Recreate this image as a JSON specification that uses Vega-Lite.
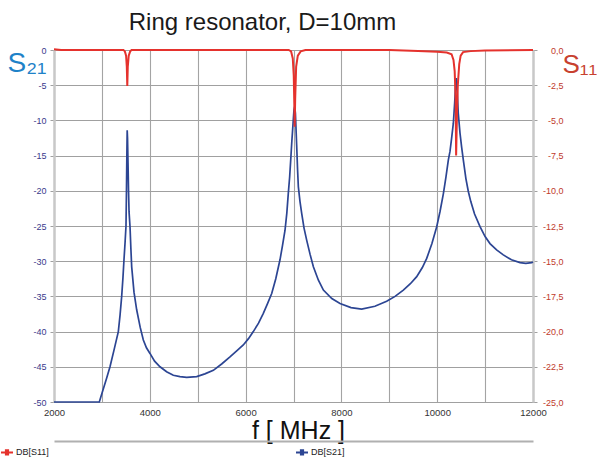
{
  "$schema": "https://vega.github.io/schema/vega-lite/v6.json",
  "width": 479,
  "height": 352,
  "autosize": {"type": "none"},
  "padding": {"left": 54, "top": 50, "right": 64, "bottom": 57},
  "background": "white",
  "title": {"text": "Ring resonator, D=10mm", "font": "Liberation Sans", "fontSize": 24, "fontWeight": "normal", "color": "#1a1a1a", "anchor": "middle", "dx": -31, "offset": 10},
  "config": {"view": {"stroke": null}, "font": "Liberation Sans"},
  "datasets": {
    "s21": [
      {"f": 2000, "db": -50, "series": "DB[S21]"},
      {"f": 2500, "db": -50, "series": "DB[S21]"},
      {"f": 2946, "db": -50, "series": "DB[S21]"},
      {"f": 3000, "db": -48.8, "series": "DB[S21]"},
      {"f": 3100, "db": -46.6, "series": "DB[S21]"},
      {"f": 3169, "db": -45.0, "series": "DB[S21]"},
      {"f": 3250, "db": -42.7, "series": "DB[S21]"},
      {"f": 3343, "db": -40.0, "series": "DB[S21]"},
      {"f": 3380, "db": -37.6, "series": "DB[S21]"},
      {"f": 3413, "db": -35.0, "series": "DB[S21]"},
      {"f": 3440, "db": -32.3, "series": "DB[S21]"},
      {"f": 3461, "db": -29.8, "series": "DB[S21]"},
      {"f": 3485, "db": -27.2, "series": "DB[S21]"},
      {"f": 3503, "db": -25.0, "series": "DB[S21]"},
      {"f": 3513, "db": -20.0, "series": "DB[S21]"},
      {"f": 3521, "db": -15.0, "series": "DB[S21]"},
      {"f": 3528, "db": -11.4, "series": "DB[S21]"},
      {"f": 3535, "db": -12.5, "series": "DB[S21]"},
      {"f": 3545, "db": -16.0, "series": "DB[S21]"},
      {"f": 3556, "db": -20.0, "series": "DB[S21]"},
      {"f": 3567, "db": -23.0, "series": "DB[S21]"},
      {"f": 3587, "db": -25.1, "series": "DB[S21]"},
      {"f": 3605, "db": -28.2, "series": "DB[S21]"},
      {"f": 3622, "db": -30.8, "series": "DB[S21]"},
      {"f": 3670, "db": -34.4, "series": "DB[S21]"},
      {"f": 3726, "db": -36.9, "series": "DB[S21]"},
      {"f": 3800, "db": -39.4, "series": "DB[S21]"},
      {"f": 3865, "db": -41.2, "series": "DB[S21]"},
      {"f": 3930, "db": -42.3, "series": "DB[S21]"},
      {"f": 4004, "db": -43.1, "series": "DB[S21]"},
      {"f": 4100, "db": -44.2, "series": "DB[S21]"},
      {"f": 4213, "db": -45.0, "series": "DB[S21]"},
      {"f": 4350, "db": -45.7, "series": "DB[S21]"},
      {"f": 4491, "db": -46.2, "series": "DB[S21]"},
      {"f": 4630, "db": -46.4, "series": "DB[S21]"},
      {"f": 4770, "db": -46.5, "series": "DB[S21]"},
      {"f": 4979, "db": -46.4, "series": "DB[S21]"},
      {"f": 5150, "db": -46.0, "series": "DB[S21]"},
      {"f": 5326, "db": -45.5, "series": "DB[S21]"},
      {"f": 5500, "db": -44.6, "series": "DB[S21]"},
      {"f": 5674, "db": -43.6, "series": "DB[S21]"},
      {"f": 5820, "db": -42.7, "series": "DB[S21]"},
      {"f": 5952, "db": -41.9, "series": "DB[S21]"},
      {"f": 6060, "db": -41.0, "series": "DB[S21]"},
      {"f": 6161, "db": -40.0, "series": "DB[S21]"},
      {"f": 6270, "db": -38.8, "series": "DB[S21]"},
      {"f": 6370, "db": -37.4, "series": "DB[S21]"},
      {"f": 6460, "db": -36.0, "series": "DB[S21]"},
      {"f": 6545, "db": -34.6, "series": "DB[S21]"},
      {"f": 6630, "db": -32.5, "series": "DB[S21]"},
      {"f": 6718, "db": -29.8, "series": "DB[S21]"},
      {"f": 6770, "db": -27.8, "series": "DB[S21]"},
      {"f": 6823, "db": -25.6, "series": "DB[S21]"},
      {"f": 6860, "db": -23.2, "series": "DB[S21]"},
      {"f": 6891, "db": -20.4, "series": "DB[S21]"},
      {"f": 6920, "db": -18.0, "series": "DB[S21]"},
      {"f": 6942, "db": -15.6, "series": "DB[S21]"},
      {"f": 6965, "db": -13.0, "series": "DB[S21]"},
      {"f": 6990, "db": -10.5, "series": "DB[S21]"},
      {"f": 7010, "db": -8.5, "series": "DB[S21]"},
      {"f": 7025, "db": -8.0, "series": "DB[S21]"},
      {"f": 7040, "db": -9.0, "series": "DB[S21]"},
      {"f": 7066, "db": -13.5, "series": "DB[S21]"},
      {"f": 7085, "db": -17.0, "series": "DB[S21]"},
      {"f": 7101, "db": -19.4, "series": "DB[S21]"},
      {"f": 7135, "db": -21.5, "series": "DB[S21]"},
      {"f": 7171, "db": -23.2, "series": "DB[S21]"},
      {"f": 7220, "db": -25.3, "series": "DB[S21]"},
      {"f": 7275, "db": -27.0, "series": "DB[S21]"},
      {"f": 7345, "db": -29.0, "series": "DB[S21]"},
      {"f": 7415, "db": -30.8, "series": "DB[S21]"},
      {"f": 7520, "db": -32.7, "series": "DB[S21]"},
      {"f": 7624, "db": -34.1, "series": "DB[S21]"},
      {"f": 7800, "db": -35.3, "series": "DB[S21]"},
      {"f": 7971, "db": -36.0, "series": "DB[S21]"},
      {"f": 8200, "db": -36.6, "series": "DB[S21]"},
      {"f": 8423, "db": -36.8, "series": "DB[S21]"},
      {"f": 8700, "db": -36.4, "series": "DB[S21]"},
      {"f": 8945, "db": -35.7, "series": "DB[S21]"},
      {"f": 9120, "db": -35.0, "series": "DB[S21]"},
      {"f": 9293, "db": -34.1, "series": "DB[S21]"},
      {"f": 9440, "db": -33.2, "series": "DB[S21]"},
      {"f": 9572, "db": -32.2, "series": "DB[S21]"},
      {"f": 9690, "db": -30.9, "series": "DB[S21]"},
      {"f": 9781, "db": -29.6, "series": "DB[S21]"},
      {"f": 9890, "db": -27.5, "series": "DB[S21]"},
      {"f": 9990, "db": -25.1, "series": "DB[S21]"},
      {"f": 10060, "db": -22.9, "series": "DB[S21]"},
      {"f": 10129, "db": -20.4, "series": "DB[S21]"},
      {"f": 10184, "db": -18.0, "series": "DB[S21]"},
      {"f": 10233, "db": -15.6, "series": "DB[S21]"},
      {"f": 10267, "db": -14.4, "series": "DB[S21]"},
      {"f": 10300, "db": -12.6, "series": "DB[S21]"},
      {"f": 10337, "db": -10.4, "series": "DB[S21]"},
      {"f": 10365, "db": -7.5, "series": "DB[S21]"},
      {"f": 10388, "db": -4.5, "series": "DB[S21]"},
      {"f": 10400, "db": -4.0, "series": "DB[S21]"},
      {"f": 10415, "db": -5.5, "series": "DB[S21]"},
      {"f": 10440, "db": -9.0, "series": "DB[S21]"},
      {"f": 10476, "db": -11.8, "series": "DB[S21]"},
      {"f": 10510, "db": -13.8, "series": "DB[S21]"},
      {"f": 10545, "db": -15.6, "series": "DB[S21]"},
      {"f": 10600, "db": -18.3, "series": "DB[S21]"},
      {"f": 10650, "db": -20.1, "series": "DB[S21]"},
      {"f": 10700, "db": -21.5, "series": "DB[S21]"},
      {"f": 10780, "db": -23.3, "series": "DB[S21]"},
      {"f": 10894, "db": -25.1, "series": "DB[S21]"},
      {"f": 11000, "db": -26.5, "series": "DB[S21]"},
      {"f": 11102, "db": -27.5, "series": "DB[S21]"},
      {"f": 11240, "db": -28.4, "series": "DB[S21]"},
      {"f": 11380, "db": -29.1, "series": "DB[S21]"},
      {"f": 11550, "db": -29.8, "series": "DB[S21]"},
      {"f": 11729, "db": -30.2, "series": "DB[S21]"},
      {"f": 11850, "db": -30.3, "series": "DB[S21]"},
      {"f": 11973, "db": -30.2, "series": "DB[S21]"},
      {"f": 12000, "db": -30.1, "series": "DB[S21]"}
    ],
    "s11": [
      {"f": 2000, "db": 0.05, "series": "DB[S11]"},
      {"f": 2150, "db": 0, "series": "DB[S11]"},
      {"f": 3000, "db": 0, "series": "DB[S11]"},
      {"f": 3450, "db": 0, "series": "DB[S11]"},
      {"f": 3480, "db": -0.1, "series": "DB[S11]"},
      {"f": 3505, "db": -0.4, "series": "DB[S11]"},
      {"f": 3520, "db": -1.2, "series": "DB[S11]"},
      {"f": 3530, "db": -2.55, "series": "DB[S11]"},
      {"f": 3540, "db": -1.2, "series": "DB[S11]"},
      {"f": 3560, "db": -0.4, "series": "DB[S11]"},
      {"f": 3590, "db": -0.1, "series": "DB[S11]"},
      {"f": 3620, "db": 0, "series": "DB[S11]"},
      {"f": 5000, "db": 0, "series": "DB[S11]"},
      {"f": 6900, "db": 0, "series": "DB[S11]"},
      {"f": 6950, "db": -0.1, "series": "DB[S11]"},
      {"f": 6985, "db": -0.6, "series": "DB[S11]"},
      {"f": 7005, "db": -1.8, "series": "DB[S11]"},
      {"f": 7018, "db": -4.0, "series": "DB[S11]"},
      {"f": 7025, "db": -5.45, "series": "DB[S11]"},
      {"f": 7035, "db": -3.5, "series": "DB[S11]"},
      {"f": 7055, "db": -1.2, "series": "DB[S11]"},
      {"f": 7090, "db": -0.4, "series": "DB[S11]"},
      {"f": 7150, "db": -0.1, "series": "DB[S11]"},
      {"f": 7250, "db": 0, "series": "DB[S11]"},
      {"f": 9000, "db": 0, "series": "DB[S11]"},
      {"f": 9600, "db": -0.07, "series": "DB[S11]"},
      {"f": 10000, "db": -0.12, "series": "DB[S11]"},
      {"f": 10200, "db": -0.18, "series": "DB[S11]"},
      {"f": 10300, "db": -0.3, "series": "DB[S11]"},
      {"f": 10340, "db": -0.7, "series": "DB[S11]"},
      {"f": 10365, "db": -1.5, "series": "DB[S11]"},
      {"f": 10385, "db": -3.5, "series": "DB[S11]"},
      {"f": 10395, "db": -7.5, "series": "DB[S11]"},
      {"f": 10410, "db": -5.0, "series": "DB[S11]"},
      {"f": 10430, "db": -2.5, "series": "DB[S11]"},
      {"f": 10460, "db": -1.0, "series": "DB[S11]"},
      {"f": 10490, "db": -0.4, "series": "DB[S11]"},
      {"f": 10540, "db": -0.15, "series": "DB[S11]"},
      {"f": 10700, "db": -0.08, "series": "DB[S11]"},
      {"f": 11000, "db": -0.03, "series": "DB[S11]"},
      {"f": 12000, "db": 0, "series": "DB[S11]"}
    ]
  },
  "layer": [
    {
      "data": {"name": "s21"},
      "mark": {"type": "line", "strokeWidth": 1.7, "interpolate": "linear"},
      "encoding": {
        "x": {
          "field": "f", "type": "quantitative",
          "scale": {"domain": [2000, 12000], "nice": false, "zero": false},
          "axis": {
            "orient": "bottom",
            "values": [2000, 3000, 4000, 5000, 6000, 7000, 8000, 9000, 10000, 11000, 12000],
            "labelExpr": "datum.value % 2000 == 0 ? '' + datum.value : ''",
            "labelFont": "Liberation Sans", "labelFontSize": 9.5, "labelColor": "#333333",
            "labelPadding": 5, "labelFlush": false, "labelOverlap": false,
            "ticks": false,
            "domain": true, "domainColor": "#a0a0a0", "domainWidth": 1,
            "grid": true, "gridColor": "#a4a4a4", "gridWidth": 1.1,
            "title": "f [ MHz ]", "titleFont": "Liberation Sans", "titleFontSize": 25, "titleFontWeight": "normal", "titleColor": "#111111",
            "titleX": 244, "titleY": 36, "titleBaseline": "alphabetic", "titleAlign": "center"
          }
        },
        "y": {
          "field": "db", "type": "quantitative",
          "scale": {"domain": [-50, 0], "nice": false, "zero": false},
          "axis": {
            "orient": "left",
            "values": [-50, -45, -40, -35, -30, -25, -20, -15, -10, -5, 0],
            "labelExpr": "'' + datum.value",
            "labelFont": "Liberation Sans", "labelFontSize": 9, "labelColor": "#3a3a8c",
            "labelPadding": 4, "labelOverlap": false,
            "ticks": true, "tickSize": 4, "tickColor": "#a0a0a0",
            "domain": true, "domainColor": "#c8c8c8", "domainWidth": 2.5,
            "grid": true, "gridColor": "#a0a0a0", "gridWidth": 1,
            "title": "S₂₁", "titleFont": "Liberation Sans", "titleFontSize": 28, "titleFontWeight": "normal", "titleColor": "#1e82c8",
            "titleAngle": 0, "titleAlign": "left", "titleBaseline": "alphabetic", "titleX": -47, "titleY": 21
          }
        },
        "color": {
          "field": "series", "type": "nominal",
          "scale": {"domain": ["DB[S11]", "DB[S21]"], "range": ["#e5322d", "#2c4593"]},
          "legend": {
            "orient": "none", "legendX": -54, "legendY": 395, "direction": "horizontal",
            "title": null, "padding": 0,
            "symbolType": "M-1,0H1M-0.35,-0.35H0.35M-0.35,-0.12H0.35M-0.35,0.12H0.35M-0.35,0.35H0.35",
            "symbolSize": 144, "symbolStrokeWidth": 2,
            "labelFont": "Liberation Sans", "labelFontSize": 9, "labelColor": "#222222", "labelOffset": 2,
            "columnPadding": 243
          }
        }
      }
    },
    {
      "data": {"name": "s11"},
      "mark": {"type": "line", "strokeWidth": 2, "interpolate": "linear"},
      "encoding": {
        "x": {
          "field": "f", "type": "quantitative",
          "scale": {"domain": [2000, 12000], "nice": false, "zero": false},
          "axis": {
            "orient": "bottom", "offset": 39,
            "labels": false, "ticks": false, "grid": false, "title": null,
            "domain": true, "domainColor": "#b0b0b0", "domainWidth": 2
          }
        },
        "y": {
          "field": "db", "type": "quantitative",
          "scale": {"domain": [-25, 0], "nice": false, "zero": false},
          "axis": {
            "orient": "right",
            "values": [-25, -22.5, -20, -17.5, -15, -12.5, -10, -7.5, -5, -2.5, 0],
            "labelExpr": "datum.value % 1 == 0 ? datum.value + ',0' : replace('' + datum.value, '.', ',')",
            "labelFont": "Liberation Sans", "labelFontSize": 9, "labelColor": "#c0392b",
            "labelAlign": "right", "labelPadding": 26, "labelOverlap": false,
            "ticks": true, "tickSize": 4, "tickColor": "#a0a0a0",
            "domain": true, "domainColor": "#c8c8c8", "domainWidth": 2.5,
            "grid": false,
            "title": "S₁₁", "titleFont": "Liberation Sans", "titleFontSize": 26, "titleFontWeight": "normal", "titleColor": "#c8412f",
            "titleAngle": 0, "titleAlign": "left", "titleBaseline": "alphabetic", "titleX": 29, "titleY": 22
          }
        },
        "color": {"field": "series", "type": "nominal"}
      }
    }
  ],
  "resolve": {"scale": {"y": "independent", "x": "independent"}, "axis": {"x": "independent"}}
}
